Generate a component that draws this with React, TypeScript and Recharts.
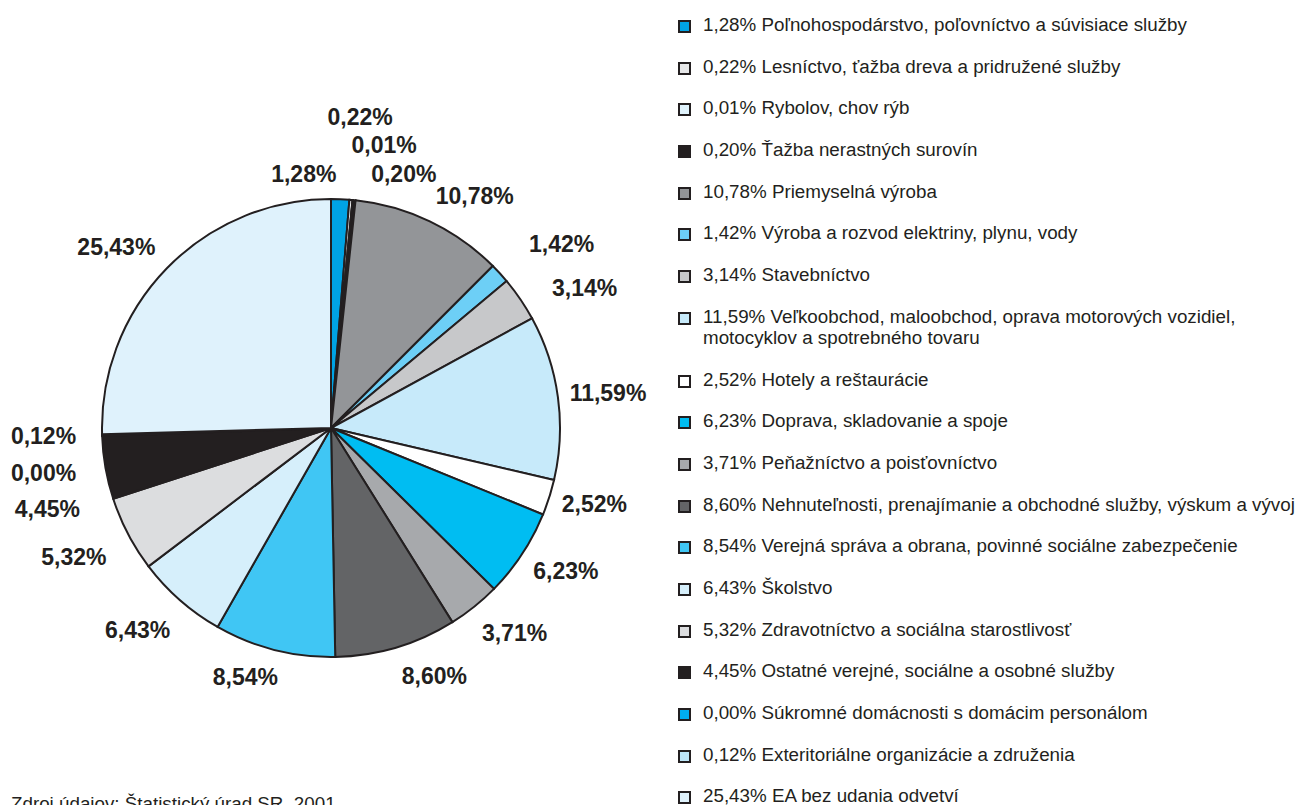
import { PieChart, Pie, Cell, Legend } from 'recharts';

const SECTORS = [
  'Poľnohospodárstvo, poľovníctvo a súvisiace služby',
  'Lesníctvo, ťažba dreva a pridružené služby',
  'Rybolov, chov rýb',
  'Ťažba nerastných surovín',
  'Priemyselná výroba',
  'Výroba a rozvod elektriny, plynu, vody',
  'Stavebníctvo',
  'Veľkoobchod, maloobchod, oprava motorových vozidiel, motocyklov a spotrebného tovaru',
  'Hotely a reštaurácie',
  'Doprava, skladovanie a spoje',
  'Peňažníctvo a poisťovníctvo',
  'Nehnuteľnosti, prenajímanie a obchodné služby, výskum a vývoj',
  'Verejná správa a obrana, povinné sociálne zabezpečenie',
  'Školstvo',
  'Zdravotníctvo a sociálna starostlivosť',
  'Ostatné verejné, sociálne a osobné služby',
  'Súkromné domácnosti s domácim personálom',
  'Exteritoriálne organizácie a združenia',
  'EA bez udania odvetví',
];

const SHARES = [
  1.28, 0.22, 0.01, 0.2, 10.78, 1.42, 3.14, 11.59, 2.52, 6.23, 3.71, 8.6, 8.54,
  6.43, 5.32, 4.45, 0.0, 0.12, 25.43,
];

const COLORS = [
  '#00a3e4', '#e6e7e8', '#e0f3fc', '#231f20', '#939598', '#6dcff6', '#c7c8ca',
  '#c7eafa', '#ffffff', '#00bdf2', '#a7a9ac', '#636466', '#40c6f4', '#d6effb',
  '#dcdddf', '#231f20', '#00aeef', '#bde6f8', '#dff2fc',
];

const SOURCE = 'Zdroj údajov: Štatistický úrad SR, 2001';

// hand nudges so the labels sit where the original put them
const LABEL_TWEAKS: Record<number, { dx: number; dy: number; anchor?: string }> = {
  0: { dx: -5, dy: 5, anchor: 'end' },
  1: { dx: -26, dy: -53 },
  2: { dx: -4, dy: -25 },
  3: { dx: 14, dy: 4 },
  4: { dx: -7, dy: 2 },
  5: { dx: 7, dy: -9 },
  6: { dx: 7, dy: 6 },
  7: { dx: -18, dy: 0 },
  8: { dx: -16, dy: -3 },
  9: { dx: -14, dy: 0 },
  10: { dx: -11, dy: 3 },
  11: { dx: -3, dy: 0 },
  12: { dx: 11, dy: -2 },
  13: { dx: 10, dy: 7 },
  14: { dx: 5, dy: 9 },
  15: { dx: 4, dy: 36 },
  16: { dx: 4, dy: 36 },
  17: { dx: 4, dy: 0 },
  18: { dx: 10, dy: 0 },
};

const INK = '#231f20';
const FONT = 'Liberation Sans, Arial, sans-serif';
const fmt = (v: number) => v.toFixed(2).replace('.', ',') + '%';

const data = SECTORS.map((name, i) => ({
  name: `${fmt(SHARES[i])} ${name}`,
  value: SHARES[i],
  fill: COLORS[i],
}));

const RAD = Math.PI / 180;

function renderLabel(props: any) {
  const { cx, cy, midAngle, outerRadius, index, value } = props;
  const r = outerRadius + 30;
  let x = cx + r * Math.cos(-midAngle * RAD);
  let y = cy + r * Math.sin(-midAngle * RAD);
  let anchor = x >= cx ? 'start' : 'end';
  const t = LABEL_TWEAKS[index];
  if (t) {
    x += t.dx;
    y += t.dy;
    if (t.anchor) anchor = t.anchor;
  }
  return (
    <text
      x={x}
      y={y}
      textAnchor={anchor}
      dominantBaseline="central"
      fill={INK}
      fontSize={23}
      fontWeight="bold"
      fontFamily={FONT}
    >
      {fmt(value)}
    </text>
  );
}

// legend keeps the data order (recharts would sort the payload)
function LegendList() {
  return (
    <div style={{ width: 620, fontFamily: FONT, fontSize: 18.8, color: INK }}>
      {data.map((d, i) => (
        <div key={i} style={{ display: 'flex', lineHeight: '21px', paddingBottom: 20.7 }}>
          <span
            style={{
              flex: '0 0 auto',
              width: 9,
              height: 9,
              marginTop: 6,
              marginRight: 12,
              background: d.fill,
              border: `2px solid ${INK}`,
            }}
          />
          <span>{d.name}</span>
        </div>
      ))}
    </div>
  );
}

export default function App() {
  return (
    <div
      style={{
        position: 'absolute',
        left: 0,
        top: 0,
        width: 1296,
        height: 805,
        overflow: 'hidden',
        background: '#fff',
      }}
    >
      <PieChart width={1296} height={805} margin={{ top: 0, right: 0, bottom: 0, left: 0 }}>
        <Pie
          data={data}
          dataKey="value"
          nameKey="name"
          cx={331}
          cy={428}
          outerRadius={229}
          startAngle={90}
          endAngle={-270}
          stroke={INK}
          strokeWidth={2}
          label={renderLabel}
          labelLine={false}
          isAnimationActive={false}
        >
          {data.map((d, i) => (
            <Cell key={i} fill={d.fill} />
          ))}
        </Pie>
        <Legend
          layout="vertical"
          verticalAlign="top"
          align="right"
          content={<LegendList />}
          wrapperStyle={{ left: 678, top: 14, width: 618, right: 'auto' }}
        />
      </PieChart>
      <div
        style={{
          position: 'absolute',
          left: 11,
          top: 793,
          fontFamily: FONT,
          fontSize: 18.8,
          color: INK,
          whiteSpace: 'nowrap',
        }}
      >
        {SOURCE}
      </div>
    </div>
  );
}
